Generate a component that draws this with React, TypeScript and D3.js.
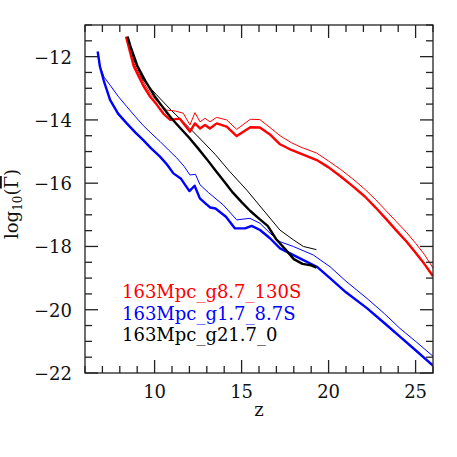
import React from "react";
import * as d3 from "d3";

const W = 457, H = 457;
const M = { left: 85, top: 25, right: 433, bottom: 373 };

const xDomain: [number, number] = [6, 26];
const yDomain: [number, number] = [-22, -11];
const xMajor = [10, 15, 20, 25];
const yMajor = [-22, -20, -18, -16, -14, -12];

const redThickZ = [8.36, 8.8, 9.35, 9.75, 10.1, 10.5, 10.9, 11.45, 12.03, 12.32, 12.61, 12.9, 13.18, 13.57, 14.14, 14.72, 15.5, 16.05, 16.63, 17.21, 17.86, 18.36, 19.32, 20.0, 20.7, 21.4, 22.1, 22.7, 23.3, 23.9, 24.5, 25.0, 25.5, 26.0];
const redThickV = [-11.37, -12.3, -12.92, -13.27, -13.5, -13.8, -14.0, -13.96, -14.37, -14.11, -14.27, -14.16, -14.27, -14.11, -14.21, -14.51, -14.23, -14.24, -14.46, -14.77, -14.95, -15.06, -15.27, -15.5, -15.79, -16.1, -16.43, -16.77, -17.13, -17.5, -17.86, -18.2, -18.55, -18.94];

const redThinZ = [8.36, 8.8, 9.35, 9.75, 10.2, 10.7, 11.2, 11.65, 12.03, 12.32, 12.61, 12.9, 13.18, 13.57, 14.14, 14.72, 15.5, 16.05, 16.63, 17.21, 17.86, 18.36, 19.32, 20.0, 20.7, 21.4, 22.1, 22.7, 23.3, 23.9, 24.5, 25.0, 25.5, 26.0];
const redThinV = [-11.37, -12.2, -12.8, -13.16, -13.45, -13.69, -13.72, -13.79, -14.16, -13.77, -14.06, -13.95, -14.06, -13.92, -14.0, -14.3, -13.98, -13.99, -14.24, -14.5, -14.72, -14.85, -15.05, -15.3, -15.57, -15.87, -16.2, -16.52, -16.87, -17.22, -17.57, -17.9, -18.25, -18.68];

const blueThickZ = [6.73, 6.86, 7.1, 7.44, 7.9, 8.4, 8.9, 9.35, 9.8, 10.31, 10.7, 11.08, 11.5, 12.0, 12.3, 12.6, 13.0, 13.2, 13.5, 14.1, 14.62, 15.2, 15.58, 16.06, 16.63, 17.21, 17.78, 18.55, 19.32, 20.08, 21.0, 22.2, 23.2, 24.1, 25.0, 26.0];
const blueThickV = [-11.84, -12.32, -12.8, -13.37, -13.8, -14.11, -14.4, -14.64, -14.9, -15.16, -15.4, -15.69, -15.85, -16.25, -16.08, -16.48, -16.68, -16.77, -16.8, -17.06, -17.43, -17.43, -17.35, -17.48, -17.74, -18.06, -18.22, -18.43, -18.64, -19.0, -19.45, -19.95, -20.42, -20.85, -21.28, -21.77];

const blueThinZ = [6.73, 6.86, 7.1, 7.44, 7.9, 8.4, 8.9, 9.35, 9.8, 10.31, 10.8, 11.27, 11.7, 12.03, 12.35, 12.61, 13.1, 13.95, 14.72, 15.48, 16.06, 16.63, 17.21, 17.97, 19.12, 20.08, 21.0, 22.2, 23.2, 24.1, 25.0, 26.0];
const blueThinV = [-11.84, -12.3, -12.65, -12.9, -13.25, -13.58, -13.9, -14.18, -14.42, -14.68, -14.95, -15.2, -15.47, -15.74, -15.72, -16.05, -16.3, -16.69, -17.16, -17.11, -17.27, -17.58, -17.85, -18.0, -18.27, -18.64, -19.1, -19.64, -20.12, -20.59, -21.0, -21.47];

const blackThickZ = [8.45, 8.6, 9.0, 9.5, 10.0, 10.5, 11.0, 11.5, 12.0, 12.5, 13.0, 13.5, 14.0, 14.5, 15.0, 15.5, 16.0, 16.5, 17.0, 17.5, 18.0, 18.5, 19.0, 19.3];
const blackThickV = [-11.37, -11.65, -12.28, -12.8, -13.25, -13.62, -13.97, -14.27, -14.57, -14.9, -15.24, -15.6, -15.95, -16.3, -16.6, -16.88, -17.12, -17.35, -17.78, -18.08, -18.4, -18.55, -18.6, -18.67];

const blackThinZ = [8.45, 8.8, 9.35, 10.1, 11.0, 12.0, 12.8, 13.5, 14.3, 15.3, 16.25, 17.2, 18.0, 18.55, 19.3];
const blackThinV = [-11.37, -12.1, -12.75, -13.2, -13.72, -14.25, -14.7, -15.1, -15.62, -16.22, -16.85, -17.48, -17.8, -18.0, -18.1];

const legendLabels = ["163Mpc_g8.7_130S", "163Mpc_g1.7_8.7S", "163Mpc_g21.7_0"];
const legendColors = ["#ff0000", "#0000ff", "#000000"];

export default function App() {
  const x = d3.scaleLinear().domain(xDomain).range([M.left, M.right]);
  const y = d3.scaleLinear().domain(yDomain).range([M.bottom, M.top]);
  const line = d3.line<[number, number]>().x((d) => x(d[0])).y((d) => y(d[1]));
  const zip = (a: number[], b: number[]) => a.map((v, i) => [v, b[i]] as [number, number]);

  const series = [
    { z: redThinZ, v: redThinV, c: "#ff0000", w: 1 },
    { z: blueThinZ, v: blueThinV, c: "#0000ff", w: 1 },
    { z: blackThinZ, v: blackThinV, c: "#000000", w: 1 },
    { z: redThickZ, v: redThickV, c: "#ff0000", w: 2.4 },
    { z: blueThickZ, v: blueThickV, c: "#0000ff", w: 2.4 },
    { z: blackThickZ, v: blackThickV, c: "#000000", w: 2.4 },
  ];

  const xMinor = d3.range(6, 27, 1).filter((t) => !xMajor.includes(t));
  const yMinor = d3.range(-22, -10.9, 0.5).filter((t) => !yMajor.includes(t));
  const axisColor = "#222";
  const font = "'DejaVu Serif', serif";
  const tickEls: React.ReactNode[] = [];
  const addX = (t: number, len: number, k: string) => {
    tickEls.push(<line key={"xb" + k} x1={x(t)} x2={x(t)} y1={M.bottom} y2={M.bottom - len} />);
    tickEls.push(<line key={"xt" + k} x1={x(t)} x2={x(t)} y1={M.top} y2={M.top + len} />);
  };
  const addY = (t: number, len: number, k: string) => {
    tickEls.push(<line key={"yl" + k} x1={M.left} x2={M.left + len} y1={y(t)} y2={y(t)} />);
    tickEls.push(<line key={"yr" + k} x1={M.right} x2={M.right - len} y1={y(t)} y2={y(t)} />);
  };
  xMajor.forEach((t) => addX(t, 13, "M" + t));
  xMinor.forEach((t) => addX(t, 7, "m" + t));
  yMajor.forEach((t) => addY(t, 13, "M" + t));
  yMinor.forEach((t) => addY(t, 7, "m" + t));

  return (
    <svg width={W} height={H} style={{ position: "absolute", left: 0, top: 0, background: "#fff" }}>
      <defs>
        <clipPath id="plot">
          <rect x={M.left} y={M.top} width={M.right - M.left} height={M.bottom - M.top} />
        </clipPath>
      </defs>
      <g clipPath="url(#plot)">
        {series.map((s, i) => (
          <path key={i} d={line(zip(s.z, s.v)) || ""} fill="none" stroke={s.c} strokeWidth={s.w} strokeLinejoin="round" />
        ))}
      </g>
      <g stroke={axisColor} strokeWidth={1.3}>
        <rect x={M.left} y={M.top} width={M.right - M.left} height={M.bottom - M.top} fill="none" />
        {tickEls}
      </g>
      <g fontFamily={font} fontSize={18} fill="#111">
        {xMajor.map((t) => (
          <text key={"xl" + t} x={x(t)} y={398} textAnchor="middle">{t}</text>
        ))}
        {yMajor.map((t) => (
          <text key={"yl" + t} x={72} y={y(t) + 7} textAnchor="end">{"\u2212" + Math.abs(t)}</text>
        ))}
        <text x={259} y={416} textAnchor="middle">z</text>
        <text transform={`translate(18,204) rotate(-90)`} textAnchor="middle">
          log<tspan fontSize={12} dy={4}>10</tspan><tspan dy={-4}>(</tspan><tspan style={{ textDecoration: "overline" }}>Γ</tspan><tspan>)</tspan>
        </text>
      </g>
      <g fontFamily={font} fontSize={18}>
        {legendLabels.map((l, i) => (
          <text key={l} x={122} y={298 + i * 21.6} fill={legendColors[i]}>{l}</text>
        ))}
      </g>
    </svg>
  );
}
